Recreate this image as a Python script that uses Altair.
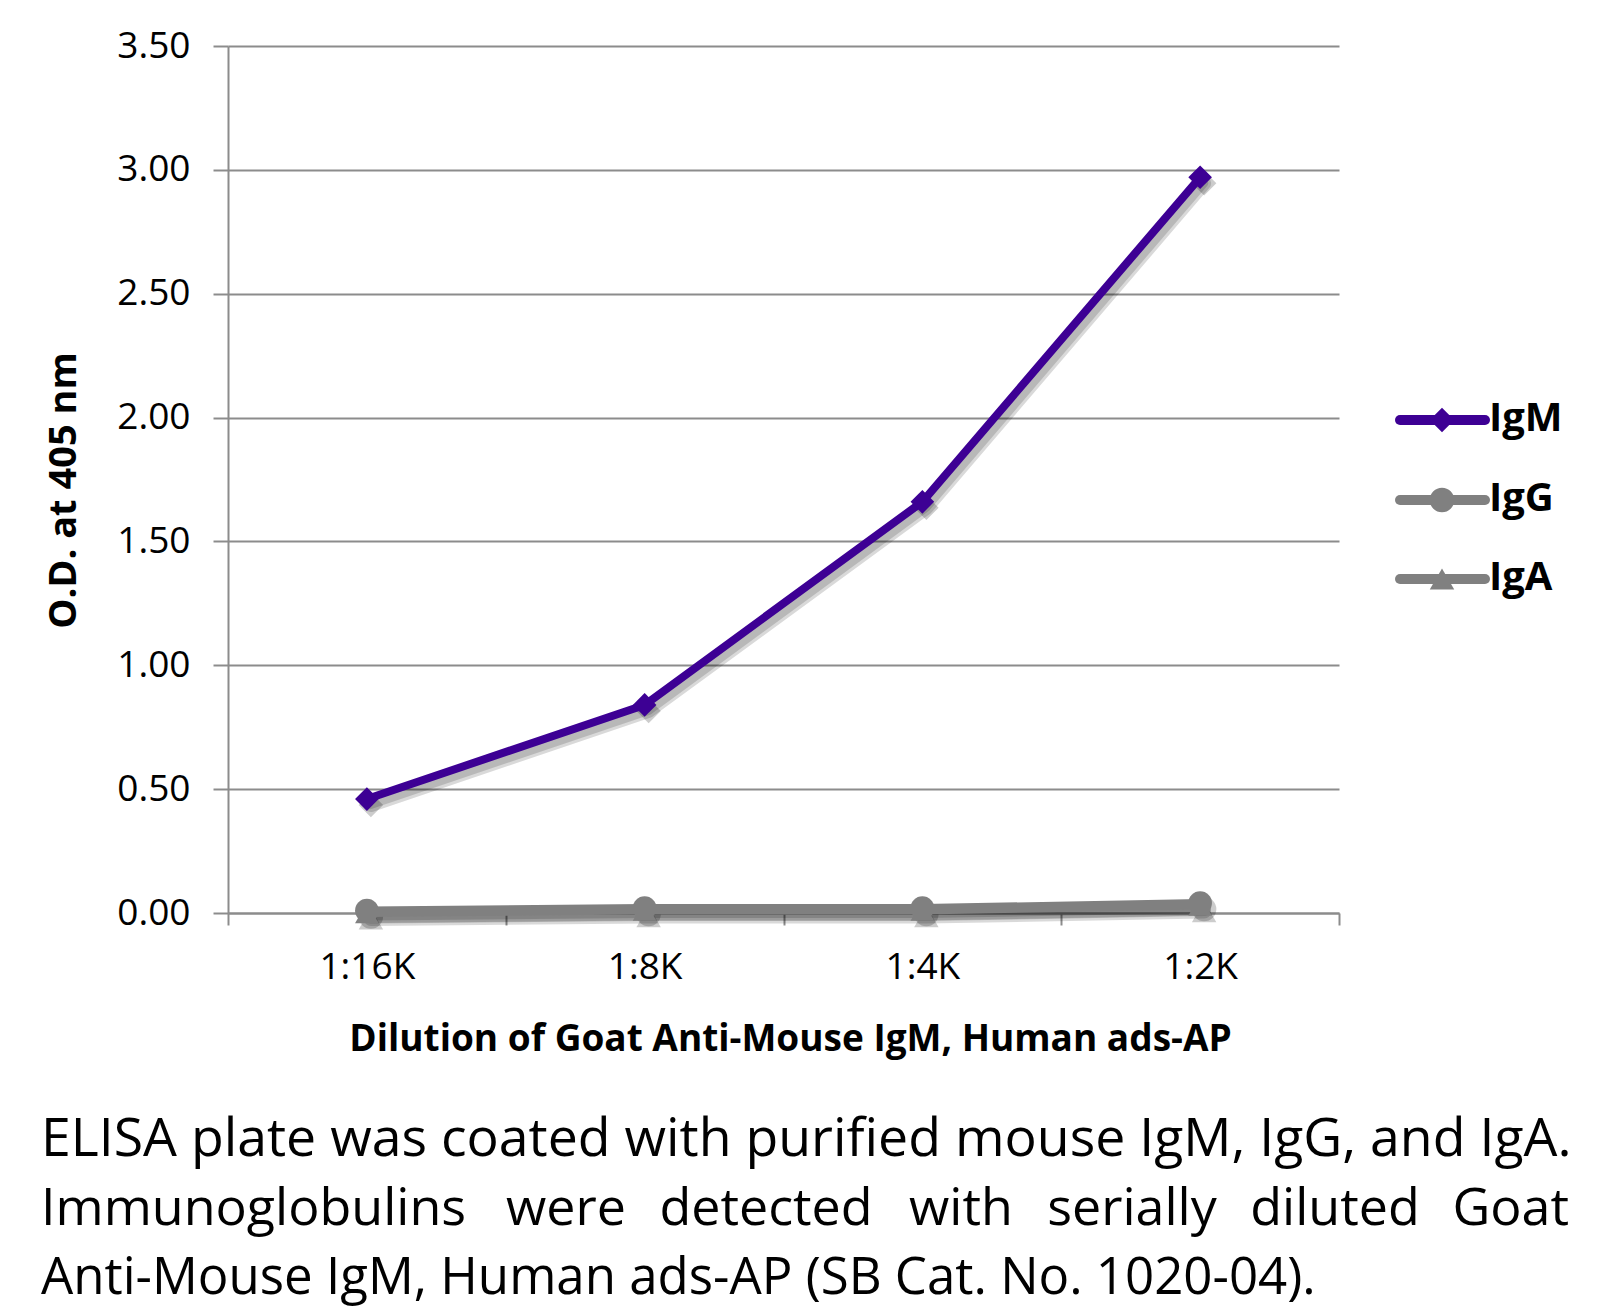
import altair as alt
import pandas as pd

dilutions = ["1:16K", "1:8K", "1:4K", "1:2K"]
series_names = ["IgM", "IgG", "IgA"]
igm = [0.46, 0.84, 1.66, 2.97]
igg = [0.01, 0.02, 0.02, 0.04]
iga = [0.00, 0.01, 0.01, 0.03]
y_ticks = [0.0, 0.5, 1.0, 1.5, 2.0, 2.5, 3.0, 3.5]

caption_line1 = "ELISA plate was coated with purified mouse IgM, IgG, and IgA."
caption_line2_words = ["Immunoglobulins", "were", "detected", "with", "serially", "diluted", "Goat"]
caption_line3 = "Anti-Mouse IgM, Human ads-AP (SB Cat. No. 1020-04)."

x_title = "Dilution of Goat Anti-Mouse IgM, Human ads-AP"
y_title = "O.D. at 405 nm"

FONT = "Open Sans"
PURPLE = "#3D0094"
GRAY = "#808080"
colors = {"IgM": PURPLE, "IgG": GRAY, "IgA": GRAY}
shapes = {"IgM": "diamond", "IgG": "circle", "IgA": "triangle-up"}
values = {"IgM": igm, "IgG": igg, "IgA": iga}

W, H = 1111, 867

x_enc = alt.X(
    "dilution:N",
    sort=dilutions,
    scale=alt.Scale(type="band", domain=dilutions, paddingInner=0, paddingOuter=0),
    axis=alt.Axis(
        title=x_title, tickBand="extent", labelAngle=0, grid=False,
        domainColor="#8c8c8c", domainWidth=2, tickColor="#8c8c8c", tickWidth=2, tickSize=12,
        labelFont=FONT, labelFontSize=37, labelColor="black", labelPadding=42, labelBaseline="middle",
        titleFont=FONT, titleFontSize=37, titleFontWeight="bold", titleColor="black",
        titleX=562, titleY=126, titleBaseline="middle", titleAlign="center",
    ),
)
y_enc = alt.Y(
    "od:Q",
    scale=alt.Scale(domain=[0, 3.5], nice=False, zero=True),
    axis=alt.Axis(
        values=y_ticks, format=".2f", title=y_title, grid=True,
        gridColor="#8c8c8c", gridWidth=2, domainColor="#8c8c8c", domainWidth=2,
        tickColor="#8c8c8c", tickWidth=2, tickSize=15,
        labelFont=FONT, labelFontSize=37, labelColor="black", labelPadding=23,
        titleFont=FONT, titleFontSize=38, titleFontWeight="bold", titleColor="black",
        titleX=-164, titleY=444, titleAngle=-90, titleAlign="center", titleBaseline="middle",
    ),
)

layers = []
order = ["IgA", "IgG", "IgM"]
for s in order:
    df = pd.DataFrame({"dilution": dilutions, "od": values[s], "series": s})
    base = alt.Chart(df)
    layers.append(
        base.mark_line(color="black", opacity=0.15, strokeWidth=14, xOffset=4, yOffset=6,
                       strokeCap="round", strokeJoin="round").encode(x=x_enc, y=y_enc)
    )
    layers.append(
        base.mark_line(color="black", opacity=0.15, strokeWidth=8, xOffset=4, yOffset=6,
                       strokeCap="round", strokeJoin="round").encode(x=x_enc, y=y_enc)
    )
    layers.append(
        base.mark_point(shape=shapes[s], color="black", opacity=0.2, filled=True, size=600,
                        xOffset=4, yOffset=6).encode(x=x_enc, y=y_enc)
    )
for s in order:
    df = pd.DataFrame({"dilution": dilutions, "od": values[s], "series": s})
    base = alt.Chart(df)
    layers.append(
        base.mark_line(color=colors[s], strokeWidth=8, strokeCap="round", strokeJoin="round")
        .encode(x=x_enc, y=y_enc)
    )
    layers.append(
        base.mark_point(shape=shapes[s], color=colors[s], filled=True, opacity=1, size=560)
        .encode(x=x_enc, y=y_enc)
    )

# Legend (manual)
legend_y = {"IgM": 374, "IgG": 454, "IgA": 533}
for s in series_names:
    ldf = pd.DataFrame({"series": [s]})
    lb = alt.Chart(ldf)
    layers.append(
        lb.mark_rule(color=colors[s], strokeWidth=10, strokeCap="round").encode(
            x=alt.value(1172), x2=alt.value(1257), y=alt.value(legend_y[s])
        )
    )
    layers.append(
        lb.mark_point(shape=shapes[s], color=colors[s], filled=True, opacity=1, size=600).encode(
            x=alt.value(1214), y=alt.value(legend_y[s])
        )
    )
    layers.append(
        lb.mark_text(font=FONT, fontSize=40, fontWeight="bold", color="black", align="left",
                     baseline="middle").encode(
            x=alt.value(1261), y=alt.value(legend_y[s] - 1), text="series:N"
        )
    )

# Caption
layers.append(
    alt.Chart(pd.DataFrame({"t": [caption_line1]})).mark_text(
        font=FONT, fontSize=53.6, color="black", align="left", baseline="alphabetic"
    ).encode(x=alt.value(-187), y=alt.value(1110), text="t:N")
)
layers.append(
    alt.Chart(pd.DataFrame({"t": [caption_line3]})).mark_text(
        font=FONT, fontSize=51, color="black", align="left", baseline="alphabetic"
    ).encode(x=alt.value(-187), y=alt.value(1248), text="t:N")
)
word_x = [-187, 338, 538, 733, 904, 1107, 1341]
word_align = ["left", "center", "center", "center", "center", "center", "right"]
for w, xx, al in zip(caption_line2_words, word_x, word_align):
    layers.append(
        alt.Chart(pd.DataFrame({"t": [w]})).mark_text(
            font=FONT, fontSize=52, color="black", align=al, baseline="alphabetic"
        ).encode(x=alt.value(xx), y=alt.value(1179), text="t:N")
    )

chart = alt.layer(*layers).properties(
    width=W, height=H,
    padding={"left": 228, "top": 46, "right": 269, "bottom": 399},
    autosize="none",
    background="white",
).configure_view(stroke=None)

chart.save("out.html", embed_options={"renderer": "svg", "actions": False})
